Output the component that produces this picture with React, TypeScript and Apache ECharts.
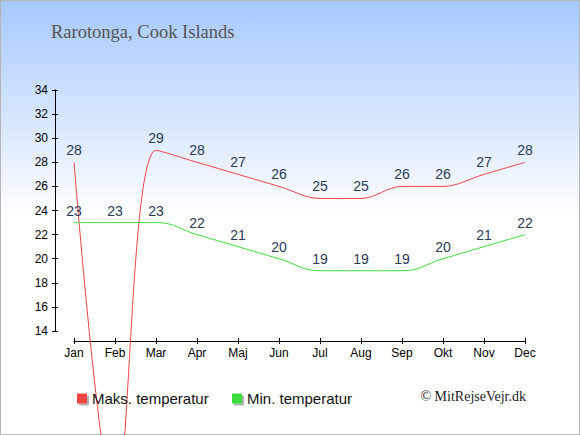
import React, { useEffect, useRef } from "react";
import * as echarts from "echarts";

const months = ["Jan", "Feb", "Mar", "Apr", "Maj", "Jun", "Jul", "Aug", "Sep", "Okt", "Nov", "Dec"];
const maxTemp = [28, 0, 29, 28, 27, 26, 25, 25, 26, 26, 27, 28];
const minTemp = [23, 23, 23, 22, 21, 20, 19, 19, 19, 20, 21, 22];
const yMin = 14;
const yMax = 34;
const yStep = 2;

const SANS = "'Liberation Sans', Arial, sans-serif";
const SERIF = "'Liberation Serif', 'Times New Roman', serif";

export default function App() {
  const ref = useRef<HTMLDivElement>(null);

  useEffect(() => {
    if (!ref.current) return;
    const chart = echarts.init(ref.current, undefined, { renderer: "svg" });
    const yBase = {
      type: "value",
      min: yMin,
      max: yMax,
      interval: yStep,
      position: "left",
      offset: 19,
      splitLine: { show: false },
      axisLine: { show: true, lineStyle: { color: "#000", width: 1 } },
    };
    const xBase = {
      type: "category",
      data: months,
      boundaryGap: false,
      position: "bottom",
      offset: 10,
      splitLine: { show: false },
      axisLine: { show: true, lineStyle: { color: "#000", width: 1 } },
    };
    const labelStyle = {
      show: true,
      position: "top",
      distance: 5,
      fontSize: 14,
      color: "#2b3a58",
      fontFamily: SANS,
    };
    // points outside the visible value range get no label (it would fall off the page)
    const withLabels = (arr: number[]) =>
      arr.map((v) => (v < yMin || v > yMax ? { value: v, label: { show: false } } : v));
    const legendCommon = {
      top: 391,
      padding: 0,
      icon: "rect",
      itemWidth: 10,
      itemHeight: 10,
      itemStyle: { shadowColor: "rgba(0,0,0,0.3)", shadowOffsetX: 2, shadowOffsetY: 2, shadowBlur: 0 },
      textStyle: { fontSize: 15, color: "#111", fontFamily: SANS },
    };
    chart.setOption({
      animation: false,
      backgroundColor: {
        type: "linear",
        x: 0,
        y: 0,
        x2: 0,
        y2: 1,
        colorStops: [
          { offset: 0, color: "#a6c8ff" },
          { offset: 0.5, color: "#ffffff" },
          { offset: 1, color: "#ffffff" },
        ],
      },
      title: {
        text: "Rarotonga, Cook Islands",
        left: 51,
        top: 22,
        padding: 0,
        textStyle: { fontFamily: SERIF, fontWeight: "normal", fontSize: 18.5, color: "#555" },
      },
      grid: { left: 74, right: 55, top: 90, bottom: 104, containLabel: false },
      xAxis: [
        {
          ...xBase,
          axisTick: { show: true, length: 3, inside: false, lineStyle: { color: "#000" } },
          axisLabel: { show: true, fontSize: 12, color: "#000", fontFamily: SANS, margin: 6 },
        },
        {
          ...xBase,
          axisTick: { show: true, length: 3, inside: true, lineStyle: { color: "#000" } },
          axisLabel: { show: false },
        },
      ],
      yAxis: [
        {
          ...yBase,
          axisTick: { show: true, length: 3, inside: false, lineStyle: { color: "#000" } },
          axisLabel: { show: true, fontSize: 12, color: "#000", fontFamily: SANS, margin: 7 },
        },
        {
          ...yBase,
          axisTick: { show: true, length: 3, inside: true, lineStyle: { color: "#000" } },
          axisLabel: { show: false },
        },
      ],
      legend: [
        { ...legendCommon, data: ["Maks. temperatur"], left: 77 },
        { ...legendCommon, data: ["Min. temperatur"], left: 232 },
      ],
      graphic: [
        {
          type: "text",
          right: 54,
          top: 389,
          style: { text: "© MitRejseVejr.dk", fontSize: 14, fontFamily: SERIF, fill: "#222" },
        },
        {
          type: "rect",
          shape: { x: 0.5, y: 0.5, width: 579, height: 434 },
          style: { fill: "none", stroke: "#b4b4b4", lineWidth: 1 },
          silent: true,
        },
      ],
      series: [
        {
          name: "Maks. temperatur",
          type: "line",
          data: withLabels(maxTemp),
          smooth: 0.35,
          clip: false,
          symbol: "circle",
          symbolSize: 0,
          showSymbol: true,
          color: "#f04444",
          lineStyle: { color: "#f04444", width: 1 },
          label: labelStyle,
        },
        {
          name: "Min. temperatur",
          type: "line",
          data: withLabels(minTemp),
          smooth: 0.45,
          clip: false,
          symbol: "circle",
          symbolSize: 0,
          showSymbol: true,
          color: "#3ddd3d",
          lineStyle: { color: "#3ddd3d", width: 1 },
          label: labelStyle,
        },
      ],
    });
    return () => chart.dispose();
  }, []);

  return (
    <div
      ref={ref}
      style={{ position: "fixed", left: 0, top: 0, width: 580, height: 435 }}
    />
  );
}
